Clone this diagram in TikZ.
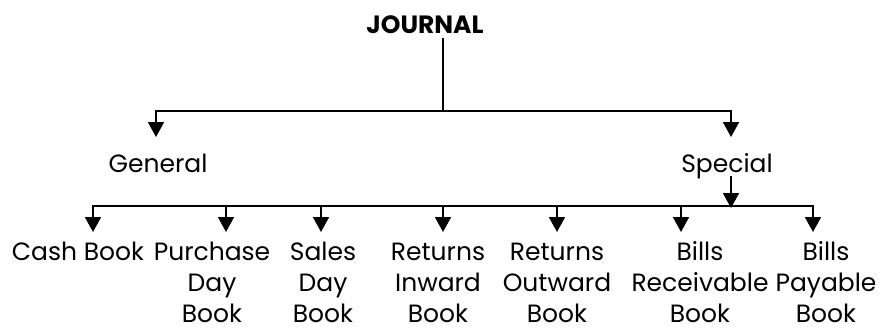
\documentclass[tikz,border=0pt]{standalone}
\usepackage{fontspec}
\setmainfont{Poppins}
\usetikzlibrary{arrows.meta}
\begin{document}
\begin{tikzpicture}[x=1pt,y=-1pt,
  conn/.style={line width=1.8pt},
  arr/.style={conn,-{Triangle[width=16pt,length=15pt]}},
  lbl/.style={inner sep=0pt,anchor=base,font=\fontsize{25}{31}\selectfont,align=center},
  ttl/.style={inner sep=0pt,anchor=base,font=\fontsize{25}{30}\selectfont\bfseries}]
\useasboundingbox (0,0) rectangle (889,332);
% titles
\node[ttl] (journal) at (425,34) {JOURNAL};
\node[lbl] (general) at (158,172) {General};
\node[lbl] (special) at (727,172) {Special};
% children (base anchor = last line)
\node[lbl] (cash) at (78,260) {Cash Book};
\node[lbl] (purchase) at (212,322) {Purchase\\Day\\Book};
\node[lbl] (sales) at (323,322) {Sales\\Day\\Book};
\node[lbl] (rin) at (438,322) {Returns\\Inward\\Book};
\node[lbl] (rout) at (557,322) {Returns\\Outward\\Book};
\node[lbl] (brec) at (700,322) {Bills\\Receivable\\Book};
\node[lbl] (bpay) at (826,322) {Bills\\Payable\\Book};
% coordinates
\coordinate (top1) at (443,38);
\coordinate (bar1) at (443,111);
\coordinate (gtip) at (156,137);
\coordinate (stip) at (731,137);
\coordinate (sbot) at (731,176);
\coordinate (bar2) at (731,206);
\coordinate (t1) at (93,232);
\coordinate (t2) at (226,232);
\coordinate (t3) at (321,232);
\coordinate (t4) at (443,232);
\coordinate (t5) at (557,232);
\coordinate (t6) at (681,232);
\coordinate (t7) at (813,232);
% connectors
\draw[conn] (top1) -- (bar1);
\draw[arr] (bar1) -| (gtip);
\draw[arr] (bar1) -| (stip);
\draw[arr] (sbot) -- ([yshift=-2pt]bar2);
\foreach \t in {t1,t2,t3,t4,t5,t6,t7}{\draw[arr] (bar2) -| (\t);}
\end{tikzpicture}
\end{document}
